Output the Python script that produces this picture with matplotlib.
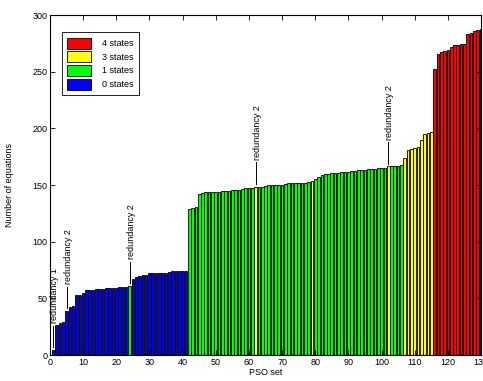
import matplotlib
matplotlib.use("Agg")
import matplotlib.pyplot as plt
from matplotlib.patches import Patch

plt.rcParams['font.family'] = ['Liberation Sans', 'DejaVu Sans']
plt.rcParams['font.size'] = 6

# number of equations for each PSO set (sorted)
equations = [
    4.5, 26.5, 28, 29, 39, 42.5, 43, 53, 53, 54.5,
    57.5, 57.5, 57.5, 58, 58.5, 58.5, 59, 59, 59, 59,
    60, 60, 60.5, 61, 67, 68.5, 69.5, 70.5, 71, 72,
    72.5, 72.5, 72.5, 72.5, 72.5, 73.5, 74, 74, 74, 74,
    74.5, 129, 130, 131, 142, 143, 143.5, 144, 144, 144,
    144, 144.5, 145, 145, 145.5, 146, 146, 146.5, 147, 147,
    147.5, 148.5, 148.5, 148.5, 149, 150, 150, 150, 150, 150.5,
    151, 151.5, 151.5, 151.5, 151.5, 151.5, 152, 152.5, 153.5, 155.5,
    157.5, 159, 159.5, 159.5, 160.5, 160.5, 161, 161.5, 161.5, 161.5,
    162, 162.5, 163, 163.5, 163.5, 164, 164.5, 164.5, 165, 165.5,
    165.5, 166.5, 166.5, 166.5, 167, 168, 174, 181, 182, 183,
    183.5, 190, 195, 196, 197, 252, 266, 267, 268.5, 269.5,
    272, 273.5, 273.5, 274.5, 274.5, 283, 284.5, 285.5, 286.5, 288,
]

# number of states for each PSO set
states = [
    0, 0, 0, 0, 0, 0, 0, 0, 0, 0,
    0, 0, 0, 0, 0, 0, 0, 0, 0, 0,
    0, 0, 0, 1, 0, 0, 0, 0, 0, 0,
    0, 0, 0, 0, 0, 0, 0, 0, 0, 0,
    0, 1, 1, 1, 1, 1, 1, 1, 1, 1,
    1, 1, 1, 1, 1, 1, 1, 1, 1, 1,
    1, 3, 1, 1, 1, 1, 1, 1, 1, 1,
    1, 1, 1, 1, 1, 1, 1, 1, 3, 1,
    1, 1, 1, 1, 1, 1, 1, 1, 1, 1,
    1, 1, 1, 1, 1, 1, 1, 1, 1, 1,
    1, 3, 1, 1, 1, 1, 3, 3, 3, 3,
    3, 3, 3, 3, 3, 4, 4, 4, 4, 4,
    4, 4, 4, 4, 4, 4, 4, 4, 4, 4,
]

# redundant sets that get a label
redundant_sets = [1, 5, 24, 62, 102]
redundant_labels = ['redundancy 1', 'redundancy 2', 'redundancy 2',
                    'redundancy 2', 'redundancy 2']

state_colors = {4: '#ff0000', 3: '#ffff00', 1: '#00ff00', 0: '#0000ff'}
legend_states = [4, 3, 1, 0]

x = list(range(1, len(equations) + 1))
colors = [state_colors[s] for s in states]

fig = plt.figure(figsize=(4.83, 3.81), dpi=100)
ax = fig.add_axes([0.1035, 0.068, 0.8924, 0.8925])

ax.bar(x, equations, width=0.8, color=colors, edgecolor='black', linewidth=0.6)

for pos, lab in zip(redundant_sets, redundant_labels):
    top = equations[pos - 1]
    ax.plot([pos, pos], [top + 2.5, top + 21.5], color='black', lw=0.7)
    ax.text(pos + 0.5, top + 23.5, lab, rotation=90, ha='center', va='bottom',
            fontsize=6.5)

handles = [Patch(facecolor=state_colors[s], edgecolor='black', linewidth=0.6)
           for s in legend_states]
ax.legend(handles, ['%d states' % s for s in legend_states], loc='upper left',
          bbox_to_anchor=(0.017, 0.963), fancybox=False, edgecolor='black',
          framealpha=1, fontsize=6.5, handlelength=2.6, handleheight=1.5,
          handletextpad=1.3, borderpad=0.6, labelspacing=0.3)
ax.get_legend().get_frame().set_linewidth(0.6)

ax.set_xlim(0, 130)
ax.set_ylim(0, 300)
ax.set_xticks(range(0, 131, 10))
ax.set_yticks(range(0, 301, 50))
ax.tick_params(direction='in', top=True, right=True, length=3.5, width=0.6,
               labelsize=6.5, pad=2)
for sp in ax.spines.values():
    sp.set_linewidth(0.8)

ax.set_xlabel('PSO set', fontsize=6.5, labelpad=1)
ax.set_ylabel('Number of equations', fontsize=6.5, labelpad=13)

fig.savefig('out.png', dpi=100)
